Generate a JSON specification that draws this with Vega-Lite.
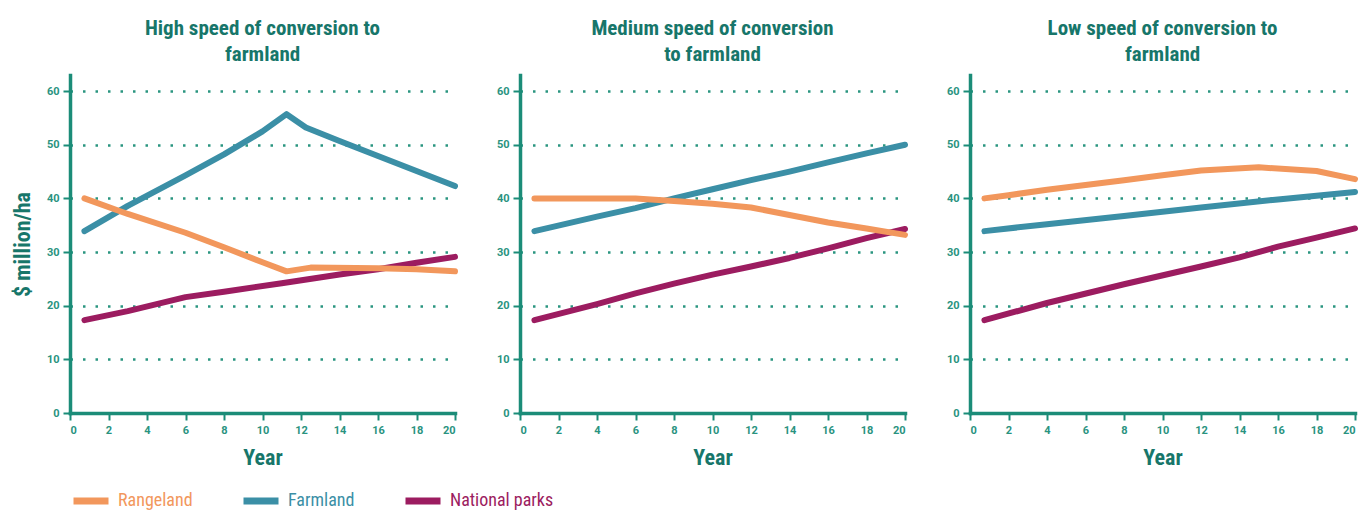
{
  "$schema": "https://vega.github.io/schema/vega-lite/v6.json",
  "padding": {"left": 11, "top": 18, "right": 0, "bottom": 0},
  "background": "white",
  "data": {"values": [
    {"panel":"High","series":"National parks","year":0.75,"value":17.3},
    {"panel":"High","series":"National parks","year":3,"value":19.0},
    {"panel":"High","series":"National parks","year":6,"value":21.6},
    {"panel":"High","series":"National parks","year":8,"value":22.6},
    {"panel":"High","series":"National parks","year":11,"value":24.2},
    {"panel":"High","series":"National parks","year":14,"value":25.8},
    {"panel":"High","series":"National parks","year":16,"value":26.8},
    {"panel":"High","series":"National parks","year":18,"value":28.0},
    {"panel":"High","series":"National parks","year":20,"value":29.1},
    {"panel":"High","series":"Farmland","year":0.75,"value":33.9},
    {"panel":"High","series":"Farmland","year":3,"value":38.6},
    {"panel":"High","series":"Farmland","year":6,"value":44.3},
    {"panel":"High","series":"Farmland","year":8,"value":48.2},
    {"panel":"High","series":"Farmland","year":10,"value":52.5},
    {"panel":"High","series":"Farmland","year":11.25,"value":55.7},
    {"panel":"High","series":"Farmland","year":12.25,"value":53.2},
    {"panel":"High","series":"Farmland","year":14,"value":50.7},
    {"panel":"High","series":"Farmland","year":16,"value":47.9},
    {"panel":"High","series":"Farmland","year":18,"value":45.1},
    {"panel":"High","series":"Farmland","year":20,"value":42.3},
    {"panel":"High","series":"Rangeland","year":0.75,"value":40.0},
    {"panel":"High","series":"Rangeland","year":3,"value":37.1},
    {"panel":"High","series":"Rangeland","year":6,"value":33.6},
    {"panel":"High","series":"Rangeland","year":8,"value":30.9},
    {"panel":"High","series":"Rangeland","year":10,"value":28.1},
    {"panel":"High","series":"Rangeland","year":11.25,"value":26.4},
    {"panel":"High","series":"Rangeland","year":12.5,"value":27.1},
    {"panel":"High","series":"Rangeland","year":16,"value":27.0},
    {"panel":"High","series":"Rangeland","year":18,"value":26.8},
    {"panel":"High","series":"Rangeland","year":20,"value":26.4},
    {"panel":"Medium","series":"National parks","year":0.75,"value":17.3},
    {"panel":"Medium","series":"National parks","year":4,"value":20.3},
    {"panel":"Medium","series":"National parks","year":6,"value":22.3},
    {"panel":"Medium","series":"National parks","year":8,"value":24.1},
    {"panel":"Medium","series":"National parks","year":10,"value":25.8},
    {"panel":"Medium","series":"National parks","year":12,"value":27.3},
    {"panel":"Medium","series":"National parks","year":14,"value":28.9},
    {"panel":"Medium","series":"National parks","year":16,"value":30.7},
    {"panel":"Medium","series":"National parks","year":18,"value":32.6},
    {"panel":"Medium","series":"National parks","year":20,"value":34.3},
    {"panel":"Medium","series":"Farmland","year":0.75,"value":33.9},
    {"panel":"Medium","series":"Farmland","year":4,"value":36.6},
    {"panel":"Medium","series":"Farmland","year":6,"value":38.2},
    {"panel":"Medium","series":"Farmland","year":8,"value":40.0},
    {"panel":"Medium","series":"Farmland","year":10,"value":41.7},
    {"panel":"Medium","series":"Farmland","year":12,"value":43.4},
    {"panel":"Medium","series":"Farmland","year":14,"value":45.0},
    {"panel":"Medium","series":"Farmland","year":16,"value":46.7},
    {"panel":"Medium","series":"Farmland","year":18,"value":48.4},
    {"panel":"Medium","series":"Farmland","year":20,"value":50.0},
    {"panel":"Medium","series":"Rangeland","year":0.75,"value":40.0},
    {"panel":"Medium","series":"Rangeland","year":4,"value":40.0},
    {"panel":"Medium","series":"Rangeland","year":6,"value":40.0},
    {"panel":"Medium","series":"Rangeland","year":8,"value":39.5},
    {"panel":"Medium","series":"Rangeland","year":10,"value":39.0},
    {"panel":"Medium","series":"Rangeland","year":12,"value":38.3},
    {"panel":"Medium","series":"Rangeland","year":14,"value":36.9},
    {"panel":"Medium","series":"Rangeland","year":16,"value":35.5},
    {"panel":"Medium","series":"Rangeland","year":18,"value":34.4},
    {"panel":"Medium","series":"Rangeland","year":20,"value":33.2},
    {"panel":"Low","series":"National parks","year":0.75,"value":17.3},
    {"panel":"Low","series":"National parks","year":4,"value":20.5},
    {"panel":"Low","series":"National parks","year":8,"value":24.0},
    {"panel":"Low","series":"National parks","year":12,"value":27.3},
    {"panel":"Low","series":"National parks","year":14,"value":29.0},
    {"panel":"Low","series":"National parks","year":16,"value":31.0},
    {"panel":"Low","series":"National parks","year":18,"value":32.7},
    {"panel":"Low","series":"National parks","year":20,"value":34.4},
    {"panel":"Low","series":"Farmland","year":0.75,"value":33.9},
    {"panel":"Low","series":"Farmland","year":4,"value":35.2},
    {"panel":"Low","series":"Farmland","year":8,"value":36.7},
    {"panel":"Low","series":"Farmland","year":12,"value":38.3},
    {"panel":"Low","series":"Farmland","year":16,"value":39.8},
    {"panel":"Low","series":"Farmland","year":20,"value":41.2},
    {"panel":"Low","series":"Rangeland","year":0.75,"value":40.0},
    {"panel":"Low","series":"Rangeland","year":2,"value":40.6},
    {"panel":"Low","series":"Rangeland","year":4,"value":41.6},
    {"panel":"Low","series":"Rangeland","year":6,"value":42.5},
    {"panel":"Low","series":"Rangeland","year":8,"value":43.4},
    {"panel":"Low","series":"Rangeland","year":10,"value":44.3},
    {"panel":"Low","series":"Rangeland","year":12,"value":45.2},
    {"panel":"Low","series":"Rangeland","year":15,"value":45.8},
    {"panel":"Low","series":"Rangeland","year":18,"value":45.1},
    {"panel":"Low","series":"Rangeland","year":20,"value":43.6}
  ]},
  "bounds": "flush",
  "spacing": 65,
  "hconcat": [
    {
      "title": {"text": ["High speed of conversion to", "farmland"]},
      "width": 385, "height": 338,
      "transform": [{"filter": "datum.panel === 'High'"}],
      "mark": {"type": "line", "strokeWidth": 6, "strokeCap": "round", "strokeJoin": "round"},
      "encoding": {
        "x": {"field": "year", "type": "quantitative", "scale": {"domain": [0, 20], "nice": false}, "axis": {"values": [0,2,4,6,8,10,12,14,16,18,20], "title": "Year"}},
        "y": {"field": "value", "type": "quantitative", "scale": {"domain": [0, 63], "nice": false}, "axis": {"values": [0,10,20,30,40,50,60], "title": "$ million/ha"}},
        "color": {"field": "series", "type": "nominal", "scale": {"domain": ["Rangeland", "Farmland", "National parks"], "range": ["#f2975c", "#3b8fa6", "#9c1c60"]},
          "legend": {"encode": {"labels": {"update": {"fill": {"scale": "color", "field": "value"}}}}}}
      }
    },
    {
      "title": {"text": ["Medium speed of conversion", "to farmland"]},
      "width": 385, "height": 338,
      "transform": [{"filter": "datum.panel === 'Medium'"}],
      "mark": {"type": "line", "strokeWidth": 6, "strokeCap": "round", "strokeJoin": "round"},
      "encoding": {
        "x": {"field": "year", "type": "quantitative", "scale": {"domain": [0, 20], "nice": false}, "axis": {"values": [0,2,4,6,8,10,12,14,16,18,20], "title": "Year"}},
        "y": {"field": "value", "type": "quantitative", "scale": {"domain": [0, 63], "nice": false}, "axis": {"values": [0,10,20,30,40,50,60], "title": null}},
        "color": {"field": "series", "type": "nominal", "scale": {"domain": ["Rangeland", "Farmland", "National parks"], "range": ["#f2975c", "#3b8fa6", "#9c1c60"]},
          "legend": {"encode": {"labels": {"update": {"fill": {"scale": "color", "field": "value"}}}}}}
      }
    },
    {
      "title": {"text": ["Low speed of conversion to", "farmland"]},
      "width": 385, "height": 338,
      "transform": [{"filter": "datum.panel === 'Low'"}],
      "mark": {"type": "line", "strokeWidth": 6, "strokeCap": "round", "strokeJoin": "round"},
      "encoding": {
        "x": {"field": "year", "type": "quantitative", "scale": {"domain": [0, 20], "nice": false}, "axis": {"values": [0,2,4,6,8,10,12,14,16,18,20], "title": "Year"}},
        "y": {"field": "value", "type": "quantitative", "scale": {"domain": [0, 63], "nice": false}, "axis": {"values": [0,10,20,30,40,50,60], "title": null}},
        "color": {"field": "series", "type": "nominal", "scale": {"domain": ["Rangeland", "Farmland", "National parks"], "range": ["#f2975c", "#3b8fa6", "#9c1c60"]},
          "legend": {"encode": {"labels": {"update": {"fill": {"scale": "color", "field": "value"}}}}}}
      }
    }
  ],
  "resolve": {"scale": {"color": "shared"}, "legend": {"color": "shared"}},
  "config": {
    "view": {"stroke": null},
    "font": "Roboto",
    "title": {"font": "Roboto Condensed, DejaVu Sans Condensed, Roboto", "color": "#17766a", "fontSize": 21, "fontWeight": "bold", "lineHeight": 26, "offset": 10, "anchor": "middle"},
    "axis": {
      "domainColor": "#1b8c78", "domainWidth": 3.5, "domainCap": "square",
      "tickColor": "#1b8c78", "tickWidth": 2, "tickSize": 7,
      "labelColor": "#2a937f", "labelFont": "Roboto", "labelFontWeight": "bold", "labelFontSize": 11,
      "titleColor": "#17766a", "titleFont": "Roboto Condensed, DejaVu Sans Condensed, Roboto", "titleFontSize": 22, "titleFontWeight": "bold",
      "grid": false
    },
    "axisX": {"labelPadding": 4, "titlePadding": 12},
    "axisY": {"grid": true, "gridColor": "#2a9580", "gridDash": [2.5, 10], "gridWidth": 2.5, "labelPadding": 4, "titlePadding": 12},
    "legend": {
      "orient": "bottom", "direction": "horizontal", "title": null, "offset": 12,
      "symbolType": "stroke", "symbolStrokeWidth": 7, "symbolSize": 1225,
      "labelFont": "Roboto Condensed, DejaVu Sans Condensed, Roboto", "labelFontSize": 18, "columnPadding": 36, "labelOffset": 6
    }
  }
}
